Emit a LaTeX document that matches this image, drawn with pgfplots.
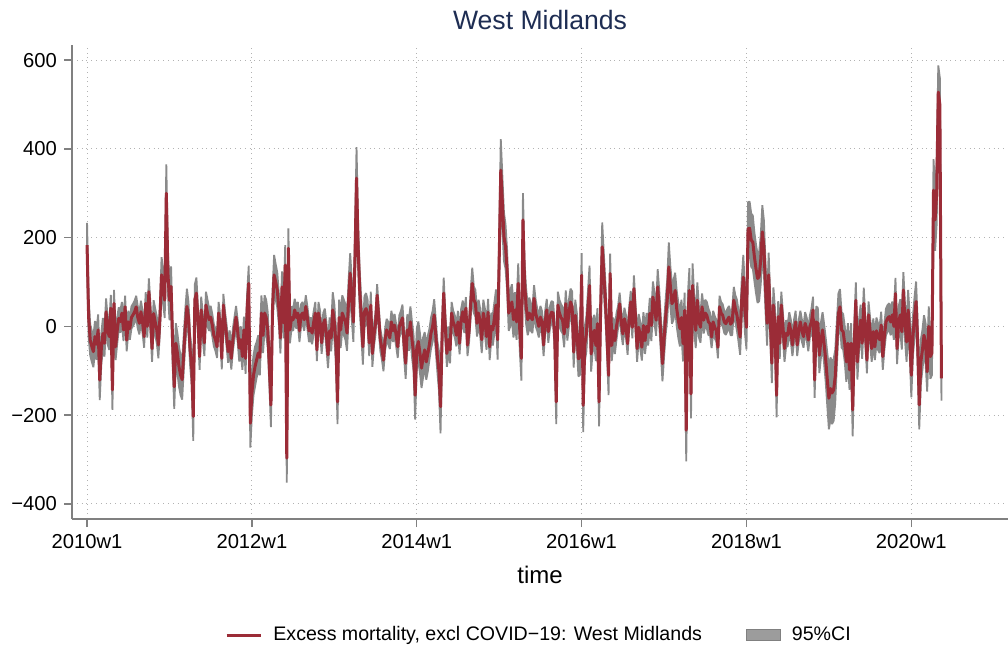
\documentclass[border=0pt]{standalone}
\usepackage{pgfplots}
\pgfplotsset{compat=1.18}
\usepackage{pgfplotstable}
\usepgfplotslibrary{fillbetween}
\usetikzlibrary{calc}
\usepackage{fontspec}
\setmainfont{Liberation Sans}
\definecolor{lineRed}{RGB}{155,44,55}
\definecolor{ciGray}{RGB}{138,138,138}
\definecolor{titleBlue}{RGB}{30,45,83}
\pgfplotstableread{
x y lo hi
0 183 133 233
1 20 -25 65
2 -31 -66 4
3 -45 -80 -10
4 -57 -92 -22
5 -23 -58 12
6 -40 -75 -5
7 -8 -43 27
8 -121 -166 -76
9 -50 -85 -15
10 -16 -51 19
11 -38 -68 -8
12 33 3 63
13 -10 -40 20
14 -23 -53 7
15 41 11 71
16 -143 -188 -98
17 52 22 82
18 -46 -76 -16
19 -10 -40 20
20 18 -7 43
21 11 -14 36
22 30 5 55
23 -8 -33 17
24 44 19 69
25 -31 -56 -6
26 10 -15 35
27 -5 -30 20
28 20 -5 45
29 26 1 51
30 33 8 58
31 44 19 69
32 20 -5 45
33 7 -18 32
34 33 8 58
35 10 -15 35
36 -23 -48 2
37 52 27 77
38 0 -25 25
39 78 48 108
40 20 -10 50
41 -50 -80 -20
42 29 -1 59
43 10 -20 40
44 -8 -38 22
45 -42 -72 -12
46 20 -10 50
47 116 76 156
48 90 50 130
49 59 19 99
50 300 235 365
51 120 75 165
52 59 14 104
53 90 45 135
54 -40 -85 5
55 -136 -186 -86
56 -38 -83 7
57 -60 -105 -15
58 -91 -136 -46
59 -110 -155 -65
60 -120 -165 -75
61 -60 -100 -20
62 0 -40 40
63 45 5 85
64 20 -15 55
65 -53 -88 -18
66 -90 -130 -50
67 -203 -258 -148
68 60 25 95
69 75 40 110
70 10 -20 40
71 -68 -98 -38
72 37 7 67
73 0 -30 30
74 -37 -67 -7
75 48 18 78
76 30 0 60
77 15 -10 40
78 21 -4 46
79 3 -22 28
80 -20 -45 5
81 -30 -55 -5
82 -46 -71 -21
83 30 5 55
84 0 -25 25
85 -72 -97 -47
86 48 23 73
87 10 -15 35
88 -20 -45 5
89 -57 -82 -32
90 -34 -59 -9
91 -72 -97 -47
92 -30 -55 -5
93 -4 -29 21
94 21 -4 46
95 -10 -35 15
96 -49 -79 -19
97 -30 -60 0
98 -68 -98 -38
99 -8 -38 22
100 -72 -107 -37
101 41 6 76
102 97 57 137
103 -218 -273 -163
104 -150 -200 -100
105 -110 -155 -65
106 -90 -135 -45
107 -75 -115 -35
108 -60 -100 -20
109 -70 -110 -30
110 30 -10 70
111 -20 -60 20
112 30 -10 70
113 20 -20 60
114 -8 -48 32
115 -91 -131 -51
116 -177 -227 -127
117 40 0 80
118 116 71 161
119 100 60 140
120 82 42 122
121 40 5 75
122 -26 -61 9
123 89 54 124
124 8 -27 43
125 138 93 183
126 -297 -352 -242
127 176 131 221
128 -8 -38 22
129 20 -5 45
130 15 -10 40
131 37 12 62
132 20 -5 45
133 30 5 55
134 -10 -35 15
135 25 0 50
136 30 5 55
137 15 -10 40
138 45 20 70
139 20 -5 45
140 -10 -35 15
141 -5 -30 20
142 -15 -40 10
143 10 -15 35
144 30 5 55
145 -53 -78 -28
146 30 5 55
147 10 -15 35
148 -37 -62 -12
149 5 -20 30
150 15 -10 40
151 -20 -50 10
152 -64 -94 -34
153 -10 -40 20
154 -26 -56 4
155 37 -3 77
156 10 -30 50
157 -40 -80 0
158 -170 -220 -120
159 20 -20 60
160 -8 -48 32
161 30 -10 70
162 20 -20 60
163 10 -30 50
164 -15 -55 25
165 60 15 105
166 120 75 165
167 60 15 105
168 10 -35 55
169 150 100 200
170 334 264 404
171 180 130 230
172 82 37 127
173 20 -20 60
174 -46 -86 -6
175 33 -2 68
176 40 5 75
177 30 0 60
178 -37 -67 -7
179 48 18 78
180 -61 -91 -31
181 -20 -45 5
182 7 -18 32
183 70 45 95
184 20 -5 45
185 -30 -55 -5
186 -50 -75 -25
187 -76 -101 -51
188 -30 -55 -5
189 -8 -33 17
190 -15 -40 10
191 -26 -51 -1
192 10 -15 35
193 -10 -35 15
194 3 -22 28
195 -20 -45 5
196 -46 -71 -21
197 0 -25 25
198 10 -15 35
199 19 -11 49
200 -40 -70 -10
201 -83 -118 -48
202 -8 -43 27
203 -20 -55 15
204 10 -25 45
205 -30 -70 10
206 -60 -100 -20
207 -155 -210 -100
208 -50 -95 -5
209 -34 -79 11
210 -60 -105 -15
211 -94 -139 -49
212 -70 -115 -25
213 -53 -93 -13
214 -80 -120 -40
215 -61 -101 -21
216 -40 -75 -5
217 -15 -50 20
218 0 -35 35
219 26 -9 61
220 -20 -55 15
221 -68 -103 -33
222 -100 -145 -55
223 -181 -241 -121
224 -20 -55 15
225 75 40 110
226 0 -30 30
227 -61 -91 -31
228 -30 -60 0
229 -53 -83 -23
230 30 5 55
231 10 -15 35
232 0 -25 25
233 -20 -45 5
234 10 -15 35
235 -38 -63 -13
236 15 -10 40
237 33 8 58
238 10 -15 35
239 41 16 66
240 -42 -67 -17
241 -10 -35 15
242 50 20 80
243 97 62 132
244 60 30 90
245 52 22 82
246 7 -23 37
247 30 0 60
248 10 -20 40
249 -30 -60 0
250 30 0 60
251 10 -20 40
252 -23 -53 7
253 32 2 62
254 -46 -76 -16
255 0 -30 30
256 -8 -43 27
257 20 -15 55
258 48 13 83
259 -30 -75 15
260 150 95 205
261 352 282 422
262 280 220 340
263 202 147 257
264 180 130 230
265 127 82 172
266 30 -10 70
267 40 0 80
268 55 15 95
269 15 -25 55
270 37 -3 77
271 10 -30 50
272 97 52 142
273 -10 -55 35
274 -72 -122 -22
275 240 180 300
276 100 55 145
277 45 5 85
278 15 -20 50
279 30 -5 65
280 20 -10 50
281 15 -15 45
282 63 33 93
283 30 0 60
284 15 -10 40
285 0 -25 25
286 21 -4 46
287 10 -15 35
288 -42 -67 -17
289 10 -15 35
290 37 12 62
291 -12 -37 13
292 20 -5 45
293 32 7 57
294 30 5 55
295 -20 -50 10
296 -170 -220 -120
297 48 18 78
298 30 0 60
299 20 -10 50
300 14 -16 44
301 -17 -47 13
302 51 21 81
303 -2 -32 28
304 30 0 60
305 55 25 85
306 44 9 79
307 -58 -93 -23
308 25 -10 60
309 -10 -50 30
310 -73 -113 -33
311 -69 -109 -29
312 115 65 165
313 -178 -238 -118
314 -40 -80 0
315 -17 -57 23
316 40 0 80
317 92 47 137
318 -62 -102 -22
319 -20 -55 15
320 -9 -44 26
321 -43 -78 -8
322 6 -29 41
323 -170 -225 -115
324 40 -5 85
325 179 124 234
326 120 75 165
327 59 19 99
328 -20 -60 20
329 -110 -155 -65
330 119 74 164
331 -43 -78 -8
332 -10 -40 20
333 -32 -62 -2
334 0 -30 30
335 21 -4 46
336 51 26 76
337 10 -15 35
338 -17 -42 8
339 17 -8 42
340 0 -25 25
341 -39 -64 -14
342 20 -5 45
343 55 30 80
344 -2 -27 23
345 85 55 115
346 20 -10 50
347 -50 -80 -20
348 -2 -32 28
349 -20 -50 10
350 -47 -77 -17
351 2 -28 32
352 -32 -62 -2
353 0 -30 30
354 -13 -43 17
355 29 -6 64
356 2 -33 37
357 66 31 101
358 40 5 75
359 14 -21 49
360 89 49 129
361 40 0 80
362 -20 -60 20
363 -84 -124 -44
364 -30 -70 10
365 21 -19 61
366 60 15 105
367 134 79 189
368 90 45 135
369 51 6 96
370 60 15 105
371 81 41 121
372 40 0 80
373 14 -26 54
374 -5 -45 35
375 20 -20 60
376 -39 -79 1
377 36 -4 76
378 -234 -304 -164
379 20 -30 70
380 81 31 131
381 -152 -207 -97
382 92 42 142
383 30 -10 70
384 -9 -49 31
385 59 19 99
386 10 -25 45
387 -2 -37 33
388 44 14 74
389 14 -16 44
390 30 0 60
391 25 -5 55
392 10 -20 40
393 6 -19 31
394 -24 -49 1
395 10 -15 35
396 -2 -27 23
397 -10 -35 15
398 -47 -72 -22
399 44 19 69
400 30 5 55
401 25 0 50
402 10 -15 35
403 6 -19 31
404 15 -10 40
405 21 -4 46
406 5 -20 30
407 10 -20 40
408 59 29 89
409 40 10 70
410 25 -10 60
411 0 -35 35
412 -24 -64 16
413 60 15 105
414 111 61 161
415 37 -13 87
416 -2 -52 48
417 220 160 280
418 221 161 281
419 194 134 254
420 190 130 250
421 157 102 212
422 130 75 185
423 108 53 163
424 112 57 167
425 150 95 205
426 213 153 273
427 179 119 239
428 90 35 145
429 7 -43 57
430 116 66 166
431 20 -25 65
432 -83 -128 -38
433 48 8 88
434 0 -40 40
435 -155 -205 -105
436 22 -13 57
437 -38 -73 -3
438 48 18 78
439 0 -30 30
440 -50 -80 -20
441 -16 -46 14
442 -20 -45 5
443 7 -18 32
444 -10 -35 15
445 -42 -67 -17
446 -10 -35 15
447 10 -15 35
448 -42 -67 -17
449 -10 -35 15
450 10 -15 35
451 -10 -35 15
452 -23 -48 2
453 7 -18 32
454 -5 -30 20
455 -31 -56 -6
456 0 -25 25
457 10 -20 40
458 37 7 67
459 -121 -161 -81
460 10 -25 45
461 7 -28 42
462 -65 -105 -25
463 -30 -70 10
464 -8 -48 32
465 -40 -85 5
466 -76 -126 -26
467 -120 -180 -60
468 -162 -232 -92
469 -140 -210 -70
470 -150 -220 -80
471 -143 -213 -73
472 -113 -173 -53
473 -40 -90 10
474 29 -16 74
475 44 4 84
476 -8 -48 32
477 -12 -52 28
478 -40 -80 0
479 -80 -125 -35
480 -38 -83 7
481 -98 -143 -53
482 -38 -83 7
483 -188 -248 -128
484 -40 -85 5
485 59 19 99
486 -80 -120 -40
487 -20 -55 15
488 14 -21 49
489 -38 -73 -3
490 52 17 87
491 -10 -40 20
492 -76 -106 -46
493 26 -4 56
494 -10 -40 20
495 -50 -80 -20
496 -12 -42 18
497 -46 -76 -16
498 -10 -40 20
499 -23 -53 7
500 -30 -60 0
501 3 -27 33
502 -68 -98 -38
503 -23 -53 7
504 10 -20 40
505 18 -12 48
506 22 -8 52
507 10 -20 40
508 26 -4 56
509 0 -30 30
510 74 39 109
511 -50 -85 -15
512 10 -25 45
513 26 -9 61
514 -12 -52 28
515 82 42 122
516 10 -30 50
517 -35 -80 10
518 37 -8 82
519 -20 -65 25
520 -110 -160 -60
521 -23 -68 22
522 20 -25 65
523 56 11 101
524 -38 -88 12
525 -177 -232 -122
526 -80 -130 -30
527 -53 -98 -8
528 -20 -65 25
529 -38 -83 7
530 -102 -147 -57
531 0 -45 45
532 -68 -118 -18
533 -60 -110 -10
534 307 237 377
535 240 170 310
536 300 230 370
537 528 468 588
538 500 440 560
539 -117 -167 -67
}\data
\begin{document}
\begin{tikzpicture}
\begin{axis}[
  scale only axis, width=468pt, height=237pt,
  xmin=-9.5, xmax=581, ymin=-434, ymax=634,
  axis x line*=bottom, axis y line*=left,
  axis line style={-, draw=black!50, line width=0.7pt},
  tick align=outside, major tick length=4pt,
  tick style={black!50, line width=0.7pt},
  xtick={0,104,208,312,416,520},
  xticklabels={2010w1,2012w1,2014w1,2016w1,2018w1,2020w1},
  ytick={-400,-200,0,200,400,600},
  yticklabels={−400,−200,0,200,400,600},
  grid=major, major grid style={black!30, dotted, line width=0.5pt},
  ticklabel style={font=\fontsize{10.1}{12}\selectfont},
  title={West Midlands},
  title style={font=\fontsize{13.3}{16}\selectfont, color=titleBlue, at={(0.5,1)}, anchor=center, yshift=6.5pt},
  xlabel={time},
  xlabel style={font=\fontsize{12}{14}\selectfont, at={(0.5,0)}, anchor=center, yshift=-28pt},
  legend columns=2,
  legend cell align=left,
  legend style={at={(0.5,0)}, anchor=center, yshift=-58pt, draw=none, fill=none,
    font=\fontsize{9.8}{12}\selectfont,
    /tikz/every odd column/.append style={column sep=3.5pt},
    /tikz/every even column/.append style={column sep=20pt}},
]
\addplot[name path=hi, draw=none, forget plot] table[x=x,y=hi]{\data};
\addplot[name path=lo, draw=none, forget plot] table[x=x,y=lo]{\data};
\addplot[fill=ciGray, draw=ciGray, line width=0.9pt, line join=bevel, forget plot] fill between[of=hi and lo];
\addplot[lineRed, line width=1.5pt, line join=round] table[x=x,y=y]{\data};
\addlegendentry{Excess mortality, excl COVID−19: West Midlands}
\addlegendimage{area legend, fill=ciGray!85, draw=black!50}
\addlegendentry{95\%CI}
\end{axis}
\pgfresetboundingbox
\path[use as bounding box] ($(current axis.south west)+(-36pt,-64.5pt)$) rectangle ($(current axis.north east)+(0pt,22.5pt)$);
\end{tikzpicture}
\end{document}
